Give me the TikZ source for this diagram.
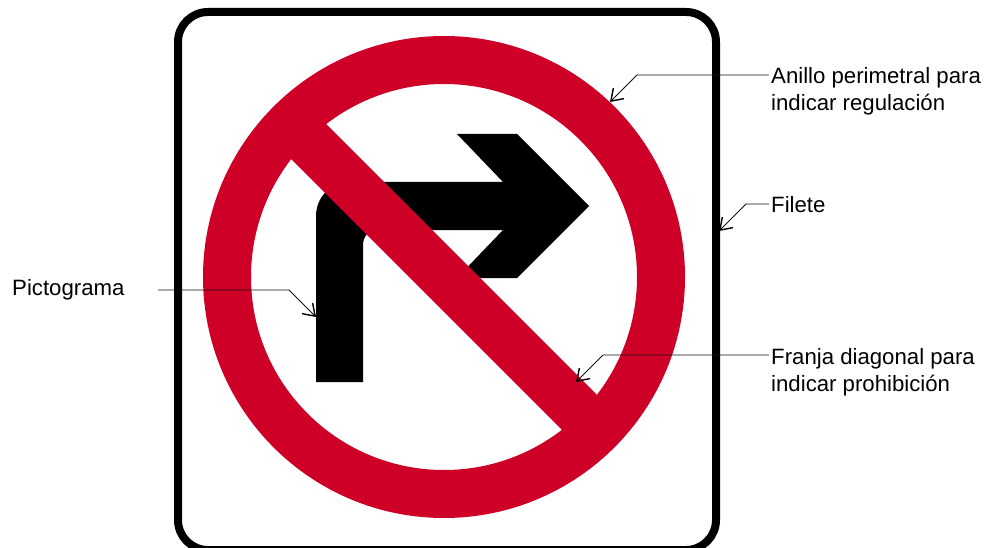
\documentclass[tikz,border=0pt]{standalone}
\usepackage{fontspec}
\setmainfont{Liberation Sans}
\usetikzlibrary{arrows.meta}
\definecolor{signred}{HTML}{CF0027}
\definecolor{leader}{HTML}{111111}
\tikzset{
  x=1pt,y=-1pt,
  label text/.style={anchor=north west,inner sep=0pt,align=left,font=\fontsize{22.2}{27}\selectfont,text=black},
  leader line/.style={draw=leader,line width=0.9pt,-{Straight Barb[length=11pt,width=15pt,line width=1.4pt,color=black]}},
  sign border/.style={draw=black,line width=8pt,rounded corners=30pt,fill=white},
  ring/.style={draw=signred,line width=48pt},
  slash/.style={draw=signred,line width=49.5pt},
}
\begin{document}
\begin{tikzpicture}
\useasboundingbox (0,0) rectangle (987,548);
\fill[white] (0,0) rectangle (987,548);
\begin{scope}
\clip (0,0) rectangle (987,548);
\draw[sign border] (178,12) rectangle (716,550);
\end{scope}
% pictogram
\fill[black] (316,382) -- (316,216) .. controls (316,197) and (331,182) .. (350,182) -- (503,182) -- (457,134) -- (517,134)
  -- (589,206) -- (517,278) -- (457,278) -- (503,230) -- (378,230) .. controls (369,230) and (363,236) .. (363,245) -- (363,382) -- cycle;
% ring and bar
\coordinate (hub) at (444,277);
\coordinate (barA) at (292,125);
\coordinate (barB) at (596,429);
\draw[slash] (barA) -- (barB);
\draw[ring] (hub) circle[radius=217];
% labels
\node[label text] (lblAnillo) at (771,67) {Anillo perimetral para\\indicar regulación};
\node[label text] (lblFilete) at (771,196.5) {Filete};
\node[label text] (lblFranja) at (771,348.5) {Franja diagonal para\\indicar prohibición};
\node[label text] (lblPicto) at (12,279.5) {Pictograma};
% leaders
\coordinate (startAnillo) at (769,75);
\coordinate (bendAnillo) at (637,75);
\coordinate (tipAnillo) at (610,102);
\coordinate (startFilete) at (769,204);
\coordinate (bendFilete) at (746,204);
\coordinate (tipFilete) at (719,231);
\coordinate (startFranja) at (769,355);
\coordinate (bendFranja) at (603,355);
\coordinate (tipFranja) at (576,382);
\coordinate (startPicto) at (158,290);
\coordinate (bendPicto) at (289,290);
\coordinate (tipPicto) at (316,317);
\draw[leader line] (startAnillo) -- (bendAnillo) -- (tipAnillo);
\draw[leader line] (startFilete) -- (bendFilete) -- (tipFilete);
\draw[leader line] (startFranja) -- (bendFranja) -- (tipFranja);
\draw[leader line] (startPicto) -- (bendPicto) -- (tipPicto);
\end{tikzpicture}
\end{document}
